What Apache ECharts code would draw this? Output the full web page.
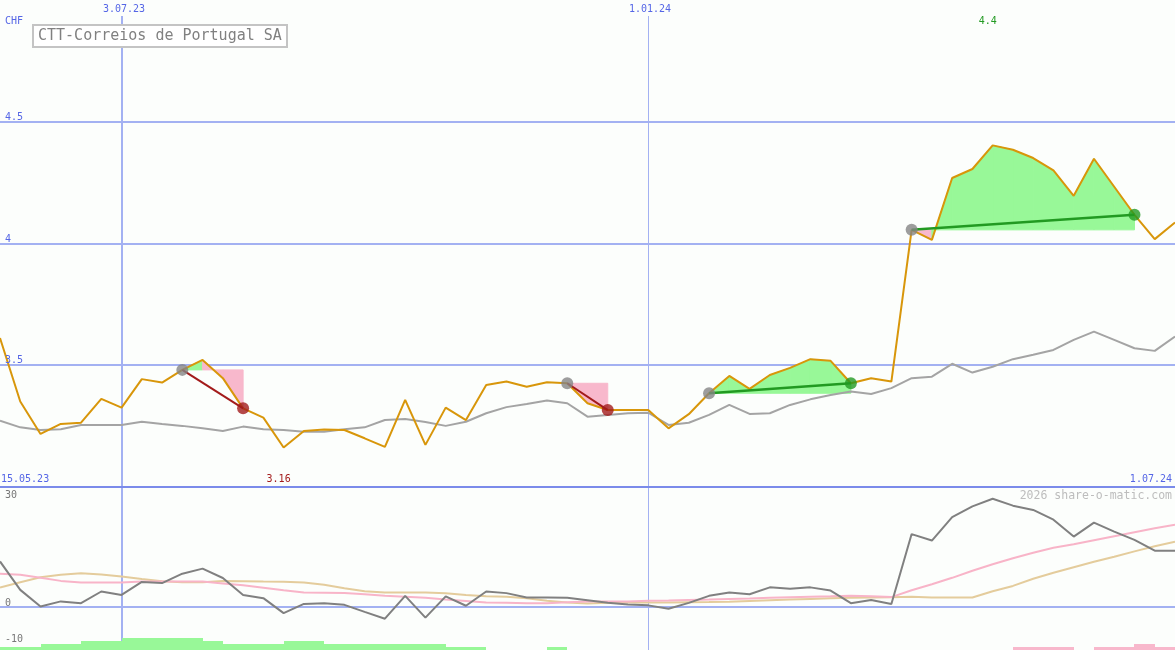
<!DOCTYPE html>
<html><head><meta charset="utf-8">
<script src="https://cdn.jsdelivr.net/npm/echarts@6/dist/echarts.min.js"></script>
<style>html,body{margin:0;padding:0;background:#fcfefc}#c{width:1175px;height:650px}</style>
</head><body><div id="c"></div>
<script>
// ---------- DATA ----------
const dates = ['2023-05-22','2023-05-29','2023-06-05','2023-06-12','2023-06-19','2023-06-26','2023-07-03','2023-07-10','2023-07-17','2023-07-24',
'2023-07-31','2023-08-07','2023-08-14','2023-08-21','2023-08-28','2023-09-04','2023-09-11','2023-09-18','2023-09-25','2023-10-02',
'2023-10-09','2023-10-16','2023-10-23','2023-10-30','2023-11-06','2023-11-13','2023-11-20','2023-11-27','2023-12-04','2023-12-11',
'2023-12-18','2023-12-25','2024-01-01','2024-01-08','2024-01-15','2024-01-22','2024-01-29','2024-02-05','2024-02-12','2024-02-19',
'2024-02-26','2024-03-04','2024-03-11','2024-03-18','2024-03-25','2024-04-01','2024-04-08','2024-04-15','2024-04-22','2024-04-29',
'2024-05-06','2024-05-13','2024-05-20','2024-05-27','2024-06-03','2024-06-10','2024-06-17','2024-06-24','2024-07-01'];
const price = [3.612,3.351,3.218,3.259,3.264,3.362,3.326,3.443,3.429,3.481,
3.522,3.447,3.323,3.285,3.162,3.230,3.236,3.234,3.200,3.165,
3.358,3.173,3.326,3.275,3.419,3.433,3.412,3.430,3.426,3.344,
3.316,3.316,3.316,3.241,3.299,3.385,3.456,3.403,3.460,3.489,
3.525,3.518,3.426,3.447,3.433,4.056,4.015,4.269,4.306,4.403,
4.385,4.351,4.300,4.196,4.348,4.233,4.118,4.018,4.086];
const average = [3.272,3.245,3.234,3.237,3.255,3.255,3.255,3.268,3.259,3.251,
3.241,3.230,3.248,3.237,3.234,3.227,3.227,3.237,3.245,3.275,
3.279,3.267,3.251,3.268,3.303,3.328,3.341,3.355,3.344,3.289,
3.296,3.303,3.305,3.255,3.264,3.296,3.337,3.300,3.303,3.337,
3.360,3.378,3.392,3.382,3.406,3.447,3.453,3.506,3.470,3.494,
3.525,3.543,3.563,3.604,3.638,3.604,3.570,3.559,3.618];
const oscMain = [12.6,4.7,0.1,1.5,1.0,4.25,3.3,6.9,6.6,9.2,
10.6,8.0,3.3,2.4,-1.75,0.8,1.0,0.55,-1.4,-3.3,
3.05,-3.0,2.9,0.3,4.25,3.8,2.6,2.6,2.5,1.8,
1.1,0.65,0.4,-0.55,1.1,3.05,4.0,3.5,5.4,5.0,
5.4,4.5,1.0,1.9,0.8,20.2,18.4,24.9,27.9,30.0,
28.1,26.9,24.2,19.5,23.4,20.9,18.6,15.6,15.6];
const oscPink = [9.2,8.9,8.05,7.2,6.75,6.75,6.75,7.0,7.0,7.0,
7.0,6.5,6.0,5.3,4.6,4.0,3.9,3.8,3.5,3.05,
2.8,2.5,2.0,1.6,1.2,1.1,1.0,1.0,1.25,1.5,
1.5,1.5,1.65,1.75,1.9,2.0,2.15,2.3,2.5,2.65,
2.8,2.9,3.05,2.9,2.7,4.6,6.25,8.05,10.0,11.8,
13.5,15.0,16.4,17.4,18.5,19.6,20.7,21.8,22.8];
const oscTan = [5.35,6.8,8.2,8.9,9.35,9.0,8.4,7.7,7.1,6.85,
6.85,7.2,7.1,7.0,6.95,6.75,6.1,5.15,4.3,4.0,
4.0,4.0,3.75,3.3,2.95,2.8,2.4,1.65,1.2,0.95,
1.1,1.2,1.2,1.2,1.25,1.3,1.4,1.6,1.8,2.0,
2.2,2.35,2.5,2.6,2.65,2.8,2.6,2.6,2.6,4.3,
5.8,7.8,9.45,11.0,12.5,13.9,15.4,16.8,18.1];
const barsGreen = [1,1,2,2,3,3,4,4,4,4, 3,2,2,2,3,3,2,2,2,2, 2,2,1,1,0,0,0,1,0,0,
0,0,0,0,0,0,0,0,0,0, 0,0,0,0,0,0,0,0,0,0, 0,0,0,0,0,0,0,0,0];
const barsPink = [0,0,0,0,0,0,0,0,0,0, 0,0,0,0,0,0,0,0,0,0, 0,0,0,0,0,0,0,0,0,0,
0,0,0,0,0,0,0,0,0,0, 0,0,0,0,0,0,0,0,0,0, 1,1,1,0,1,1,2,1,0];
const signalEntry = [9, 28, 35, 45];   // week index of entry (gray dot)
const signalExit  = [12, 30, 42, 56];  // week index of exit
const priceTicks = [3.5, 4, 4.5];
const priceBase = 3;
const oscTicks = [30, 0, -10];
const dateMarks = ['2023-07-03', '2024-01-01'];
const dateMarkLabels = ['3.07.23', '1.01.24'];
const rangeLabels = ['15.05.23', '1.07.24'];
const titleText = 'CTT-Correios de Portugal SA';
const currency = 'CHF';
const watermark = '2026 share-o-matic.com';

// ---------- STYLE ----------
const FONT = "'DejaVu Sans Mono', 'Liberation Mono', monospace";
const BLUE_TXT = '#5566e6';
const GRID_BLUE = '#a3b1f2';
const SEP_BLUE = '#7b8bea';
const ORANGE = '#d8960a';
const AVG_GRAY = '#a4a4a4';
const GREEN_FILL = '#98f898';
const PINK_FILL = '#f8b8cc';
const RED = '#a31b1b';
const GREEN = '#229a22';
const W = 1175, H = 650;

const toT = s => { const [y, m, d] = s.split('-').map(Number); return new Date(y, m - 1, d).getTime(); };
const T = dates.map(toT);
const pairs = arr => arr.map((v, i) => [T[i], v]);

// fills between price and entry level, one polygon per week segment
const fillData = [];
signalEntry.forEach((e, k) => {
  const x = signalExit[k], lvl = price[e];
  for (let i = e; i < x; i++) {
    fillData.push([T[i], price[i], T[i + 1], price[i + 1], lvl, price[i + 1] >= lvl ? 1 : 0]);
  }
});
const barData = [];
for (let i = 0; i < T.length - 1; i++) {
  if (barsGreen[i]) barData.push([T[i], T[i + 1], barsGreen[i], 0]);
  if (barsPink[i]) barData.push([T[i], T[i + 1], barsPink[i], 1]);
}

const signalLines = signalEntry.map((e, k) => {
  const x = signalExit[k];
  const up = price[x] >= price[e];
  return {
    type: 'line', xAxisIndex: 0, yAxisIndex: 0, z: 5, symbol: 'none',
    data: [[T[e], price[e]], [T[x], price[x]]],
    lineStyle: { color: up ? GREEN : RED, width: up ? 2.5 : 2 }
  };
});

const chart = echarts.init(document.getElementById('c'), null, { renderer: 'canvas' });
chart.setOption({
  animation: false,
  backgroundColor: '#fcfefc',
  grid: [
    { left: 0, right: 0, top: 0, height: 487 },
    { left: 0, right: 0, top: 487, height: 163 }
  ],
  xAxis: [
    { type: 'time', gridIndex: 0, min: T[0], max: T[T.length - 1], show: false },
    { type: 'time', gridIndex: 1, min: T[0], max: T[T.length - 1], show: false }
  ],
  yAxis: [
    { type: 'value', gridIndex: 0, min: 3, max: 5, show: false },
    { type: 'value', gridIndex: 1, min: -12, max: 33.28, show: false },
    { type: 'value', gridIndex: 1, min: 0, max: 54.33, show: false }
  ],
  series: [
    {
      type: 'custom', xAxisIndex: 0, yAxisIndex: 0, z: 2, silent: true,
      encode: { x: [0, 2], y: [1, 3, 4] }, data: fillData,
      renderItem: (params, api) => {
        const a = api.coord([api.value(0), api.value(1)]);
        const b = api.coord([api.value(2), api.value(3)]);
        const c = api.coord([api.value(2), api.value(4)]);
        const d = api.coord([api.value(0), api.value(4)]);
        const col = api.value(5) ? GREEN_FILL : PINK_FILL;
        return { type: 'polygon', shape: { points: [a, b, c, d] },
          style: { fill: col, stroke: col, lineWidth: 1 } };
      }
    },
    { type: 'line', xAxisIndex: 0, yAxisIndex: 0, z: 3, symbol: 'none', data: pairs(average),
      lineStyle: { color: AVG_GRAY, width: 2 } },
    { type: 'line', xAxisIndex: 0, yAxisIndex: 0, z: 4, symbol: 'none', data: pairs(price),
      lineStyle: { color: ORANGE, width: 2 } },
    ...signalLines,
    { type: 'scatter', xAxisIndex: 0, yAxisIndex: 0, z: 6, symbolSize: 12,
      data: signalEntry.map(e => [T[e], price[e]]), itemStyle: { color: '#858585' } },
    { type: 'scatter', xAxisIndex: 0, yAxisIndex: 0, z: 6, symbolSize: 12,
      data: signalExit.map((x, k) => ({ value: [T[x], price[x]],
        itemStyle: { color: price[x] >= price[signalEntry[k]] ? GREEN : RED } })) },
    {
      type: 'custom', xAxisIndex: 1, yAxisIndex: 2, z: 2, silent: true,
      encode: { x: [0, 1], y: 2 }, data: barData,
      renderItem: (params, api) => {
        const p0 = api.coord([api.value(0), api.value(2)]);
        const p1 = api.coord([api.value(1), 0]);
        const x0 = Math.round(p0[0]), x1 = Math.round(p1[0]);
        const y0 = Math.round(p0[1]), y1 = Math.round(p1[1]);
        return { type: 'rect', shape: { x: x0, y: y0, width: x1 - x0, height: y1 - y0 },
          style: { fill: api.value(3) ? PINK_FILL : GREEN_FILL } };
      }
    },
    { type: 'line', xAxisIndex: 1, yAxisIndex: 1, z: 3, symbol: 'none', data: pairs(oscTan),
      lineStyle: { color: '#e4cc9c', width: 2 } },
    { type: 'line', xAxisIndex: 1, yAxisIndex: 1, z: 3, symbol: 'none', data: pairs(oscPink),
      lineStyle: { color: '#f8b4c8', width: 2 } },
    { type: 'line', xAxisIndex: 1, yAxisIndex: 1, z: 4, symbol: 'none', data: pairs(oscMain),
      lineStyle: { color: '#808080', width: 2 } }
  ]
});

// ---------- decorations positioned through the axes ----------
const px = t => chart.convertToPixel({ xAxisIndex: 0 }, t);
const pyTop = v => chart.convertToPixel({ yAxisIndex: 0 }, v);
const pyBot = v => chart.convertToPixel({ yAxisIndex: 1 }, v);
const txt = (x, y, text, fill, size, align) => ({
  type: 'text', x, y, silent: true, z: 10,
  style: { text, fill, font: size + 'px ' + FONT, align: align || 'left', verticalAlign: 'middle' }
});
const g = [];
priceTicks.forEach(v => {
  const y = Math.round(pyTop(v));
  g.push({ type: 'line', silent: true, shape: { x1: 0, y1: y, x2: W, y2: y }, style: { stroke: GRID_BLUE, lineWidth: 2 } });
  g.push(txt(5, y - 5, String(v), BLUE_TXT, 10));
});
const ySep = Math.round(pyTop(priceBase));
const yZero = Math.round(pyBot(0));
g.push({ type: 'line', silent: true, shape: { x1: 0, y1: yZero, x2: W, y2: yZero }, style: { stroke: GRID_BLUE, lineWidth: 2 } });
const markW = [2, 1];
dateMarks.forEach((d, k) => {
  let x = Math.round(px(toT(d)));
  if (markW[k] % 2) x += 0.5;
  g.push({ type: 'line', silent: true, shape: { x1: x, y1: 16, x2: x, y2: H }, style: { stroke: GRID_BLUE, lineWidth: markW[k] } });
  g.push(txt(Math.round(px(toT(d))) + 2, 9, dateMarkLabels[k], BLUE_TXT, 10, 'center'));
});
g.push({ type: 'line', silent: true, shape: { x1: 0, y1: ySep, x2: W, y2: ySep }, style: { stroke: SEP_BLUE, lineWidth: 2 } });
g.push(txt(5, 21, currency, BLUE_TXT, 10));
g.push(txt(1, ySep - 8, rangeLabels[0], BLUE_TXT, 10));
g.push(txt(W - 3, ySep - 8, rangeLabels[1], BLUE_TXT, 10, 'right'));
const fmt = v => String(parseFloat(v.toFixed(2)));
let iMin = 0, iMax = 0;
price.forEach((v, i) => { if (v < price[iMin]) iMin = i; if (v > price[iMax]) iMax = i; });
g.push(txt(px(T[iMin]) - 5, ySep - 8, fmt(price[iMin]), RED, 10, 'center'));
g.push(txt(px(T[iMax]) - 5, 21, fmt(price[iMax]), GREEN, 10, 'center'));
oscTicks.forEach(v => g.push(txt(5, pyBot(v) - 3, String(v), '#777777', 10)));
g.push(txt(W - 3, 496, watermark, '#bdbdbd', 11.5, 'right'));
g.push({ type: 'rect', silent: true, z: 9, shape: { x: 33, y: 25, width: 254, height: 22 },
  style: { fill: '#ffffff', stroke: '#c4c4c4', lineWidth: 2 } });
g.push(txt(38, 36.5, titleText, '#808080', 15));
chart.setOption({ graphic: g });
</script>
</body></html>
